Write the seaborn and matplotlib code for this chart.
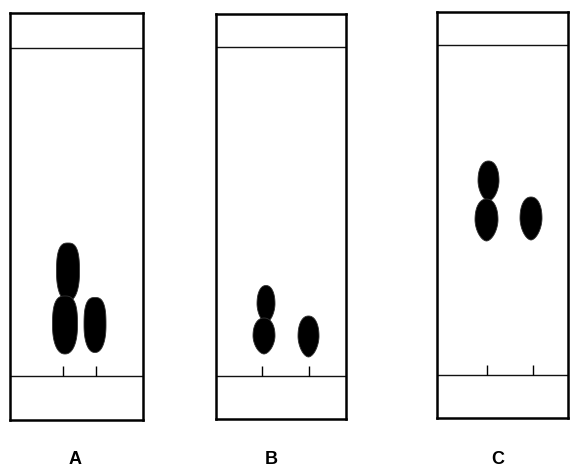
import numpy as np
import matplotlib
matplotlib.use("Agg")
import matplotlib.pyplot as plt
from matplotlib.patches import Polygon
import seaborn as sns

# ---- data (pixel-like units: x from plate left edge, y above the origin line) ----
plate_labels = ["A", "B", "C"]
front_distance = [328, 329, 330]
lane_x = [[53, 86], [46, 93], [50, 96]]

# spots per plate: lane centre x, migration y, width, height
spot_x = [[58, 55, 85], [50, 48, 92.5], [51.5, 49.5, 94]]
spot_y = [[104, 51, 51], [72, 40, 39.5], [194, 155, 156.5]]
spot_w = [[23, 25, 22], [18, 22, 21], [21, 23, 22]]
spot_h = [[58, 58, 55], [37, 36, 41], [40, 42, 43]]

# ---- layout (figure pixels) ----
W, H = 571, 467
plate_left = [10, 216, 437]
plate_right = [143, 346, 568]
plate_top = [13, 14, 12]
plate_bottom = [420, 419, 418]
plate_base = [376, 376, 375]
label_x = [75, 271, 498]
label_y = 459.5
spot_shape = [2.8, 2.2, 2.2]

sns.set_theme(style="white")
plt.rcParams["font.family"] = ["Liberation Sans", "DejaVu Sans"]

fig = plt.figure(figsize=(W / 100, H / 100), dpi=100)
fig.patch.set_facecolor("white")

def spot_outline(cx, cy, w, h, n, num=160):
    # superellipse top, slightly tapered bottom
    t = np.linspace(0, 2 * np.pi, num)
    c, s = np.cos(t), np.sin(t)
    nb = np.where(s < 0, n * 0.8, n)
    x = cx + (w / 2) * np.sign(c) * np.abs(c) ** (2 / nb)
    y = cy + (h / 2) * np.sign(s) * np.abs(s) ** (2 / nb)
    return np.column_stack([x, y])

for i, lab in enumerate(plate_labels):
    l, r = plate_left[i], plate_right[i]
    t, b = plate_top[i], plate_bottom[i]
    base = plate_base[i]
    ax = fig.add_axes([l / W, 1 - b / H, (r - l) / W, (b - t) / H])
    ax.set_xlim(0, r - l)
    ax.set_ylim(-(b - base), base - t)
    ax.set_xticks([])
    ax.set_yticks([])
    ax.set_facecolor("white")
    for sp in ax.spines.values():
        sp.set_visible(True)
        sp.set_color("black")
        sp.set_linewidth(1.8)
    # origin line and solvent front
    ax.axhline(0, color="#111111", lw=1.0)
    ax.axhline(front_distance[i], color="#111111", lw=1.0)
    # lane marks
    ax.vlines(lane_x[i], 0, 10, color="black", lw=1.0)
    # spots
    for cx, cy, w, h in zip(spot_x[i], spot_y[i], spot_w[i], spot_h[i]):
        ax.add_patch(Polygon(spot_outline(cx, cy, w, h, spot_shape[i]),
                             closed=True, facecolor="black", edgecolor="#333333",
                             lw=0.6))
    fig.text(label_x[i] / W, 1 - label_y / H, lab, ha="center", va="center",
             fontsize=13, fontweight="bold", color="black")

fig.savefig("out.png", dpi=100, facecolor="white")
